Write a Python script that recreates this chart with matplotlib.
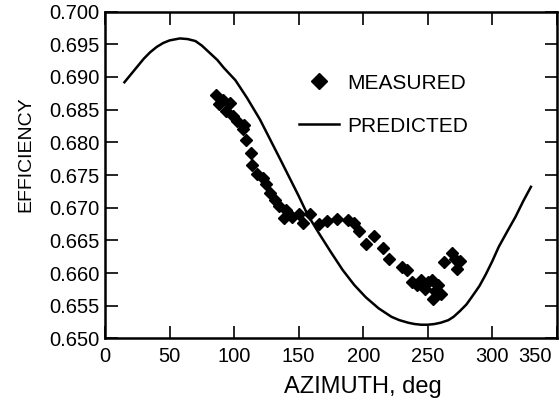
import numpy as np
import matplotlib
matplotlib.use('Agg')
import matplotlib.pyplot as plt
import matplotlib.transforms as mtrans

plt.rcParams['font.family'] = ['Liberation Sans', 'DejaVu Sans']

# predicted curve
pred_az = [15, 20, 25, 30, 35, 40, 45, 50, 58, 64, 70, 75, 81, 87, 92, 101,
           110, 120, 136, 150, 157, 166, 175, 184, 193, 202, 212, 222, 228,
           235, 240, 245, 250, 255, 260, 266, 270, 275, 280, 284, 290, 295,
           300, 305, 312, 318, 324, 330]
pred_eff = [0.6892, 0.6904, 0.6916, 0.6928, 0.6938, 0.6946, 0.6952, 0.6956,
            0.6959, 0.6958, 0.6955, 0.6948, 0.6937, 0.6926, 0.6914, 0.6895,
            0.6868, 0.6835, 0.6773, 0.6718, 0.6689, 0.6660, 0.6632, 0.6605,
            0.6582, 0.6563, 0.6546, 0.6533, 0.6528, 0.6524, 0.6522, 0.6521,
            0.6521, 0.6522, 0.6524, 0.6528, 0.6533, 0.6542, 0.6552, 0.6563,
            0.6580, 0.6598, 0.6618, 0.6640, 0.6665, 0.6686, 0.6710, 0.6732]

# measured points
meas_az = [86, 88, 91, 94, 97, 99, 102, 107, 108, 109, 113, 114, 118, 122,
           125, 128, 132, 135, 139, 140, 145, 150, 153, 159, 166, 172, 180,
           188, 193, 197, 202, 208, 215, 220, 230, 234, 238, 242, 245, 248,
           250, 253, 254, 256, 258, 260, 263, 269, 271, 273, 275]
meas_eff = [0.6872, 0.6858, 0.6865, 0.6848, 0.6860, 0.6840, 0.6832, 0.6820,
            0.6826, 0.6803, 0.6783, 0.6766, 0.6751, 0.6745, 0.6737, 0.6722,
            0.6712, 0.6702, 0.6685, 0.6696, 0.6686, 0.6691, 0.6676, 0.6690,
            0.6675, 0.6680, 0.6683, 0.6681, 0.6676, 0.6664, 0.6645, 0.6657,
            0.6638, 0.6622, 0.6610, 0.6605, 0.6587, 0.6582, 0.6590, 0.6576,
            0.6586, 0.6590, 0.6560, 0.6572, 0.6582, 0.6568, 0.6617, 0.6630,
            0.6621, 0.6607, 0.6618]

xticks = [0, 50, 100, 150, 200, 250, 300, 350]
yticks = [0.650, 0.655, 0.660, 0.665, 0.670, 0.675, 0.680, 0.685, 0.690, 0.695, 0.700]

fig = plt.figure(figsize=(5.59, 4.01), dpi=100)
ax = fig.add_axes([0.188, 0.156, 0.808, 0.815])

ax.plot(meas_az, meas_eff, 'D', color='black', ms=6.5, mec='black', label='MEASURED', zorder=3)
ax.plot(pred_az, pred_eff, '-', color='black', lw=1.8, label='PREDICTED', zorder=2)

ax.set_xlim(0, 350)
ax.set_ylim(0.650, 0.700)
ax.set_xticks(xticks)
ax.set_yticks(yticks)
ax.set_yticklabels(['%.3f' % v for v in yticks])

ax.tick_params(direction='in', length=9, width=1.2, top=True, right=True, labelsize=14.5)
ax.tick_params(axis='x', pad=6)
ax.tick_params(axis='y', pad=4)
for s in ax.spines.values():
    s.set_linewidth(1.8)

# last x label sits inside the figure edge
lab = ax.get_xticklabels()[-1]
lab.set_transform(lab.get_transform() + mtrans.ScaledTranslation(-0.22, 0, fig.dpi_scale_trans))

ax.set_xlabel('AZIMUTH, deg', fontsize=17)
ax.xaxis.set_label_coords(0.571, -0.115)
ax.set_ylabel('EFFICIENCY', fontsize=14)
ax.yaxis.set_label_coords(-0.157, 0.564)

ax.legend(loc='upper left', bbox_to_anchor=(0.43, 0.81), frameon=False, fontsize=15,
          borderpad=0, borderaxespad=0, handlelength=1.9, handletextpad=0.4,
          labelspacing=1.15, markerscale=1.3)

fig.savefig('out.png', dpi=100)
